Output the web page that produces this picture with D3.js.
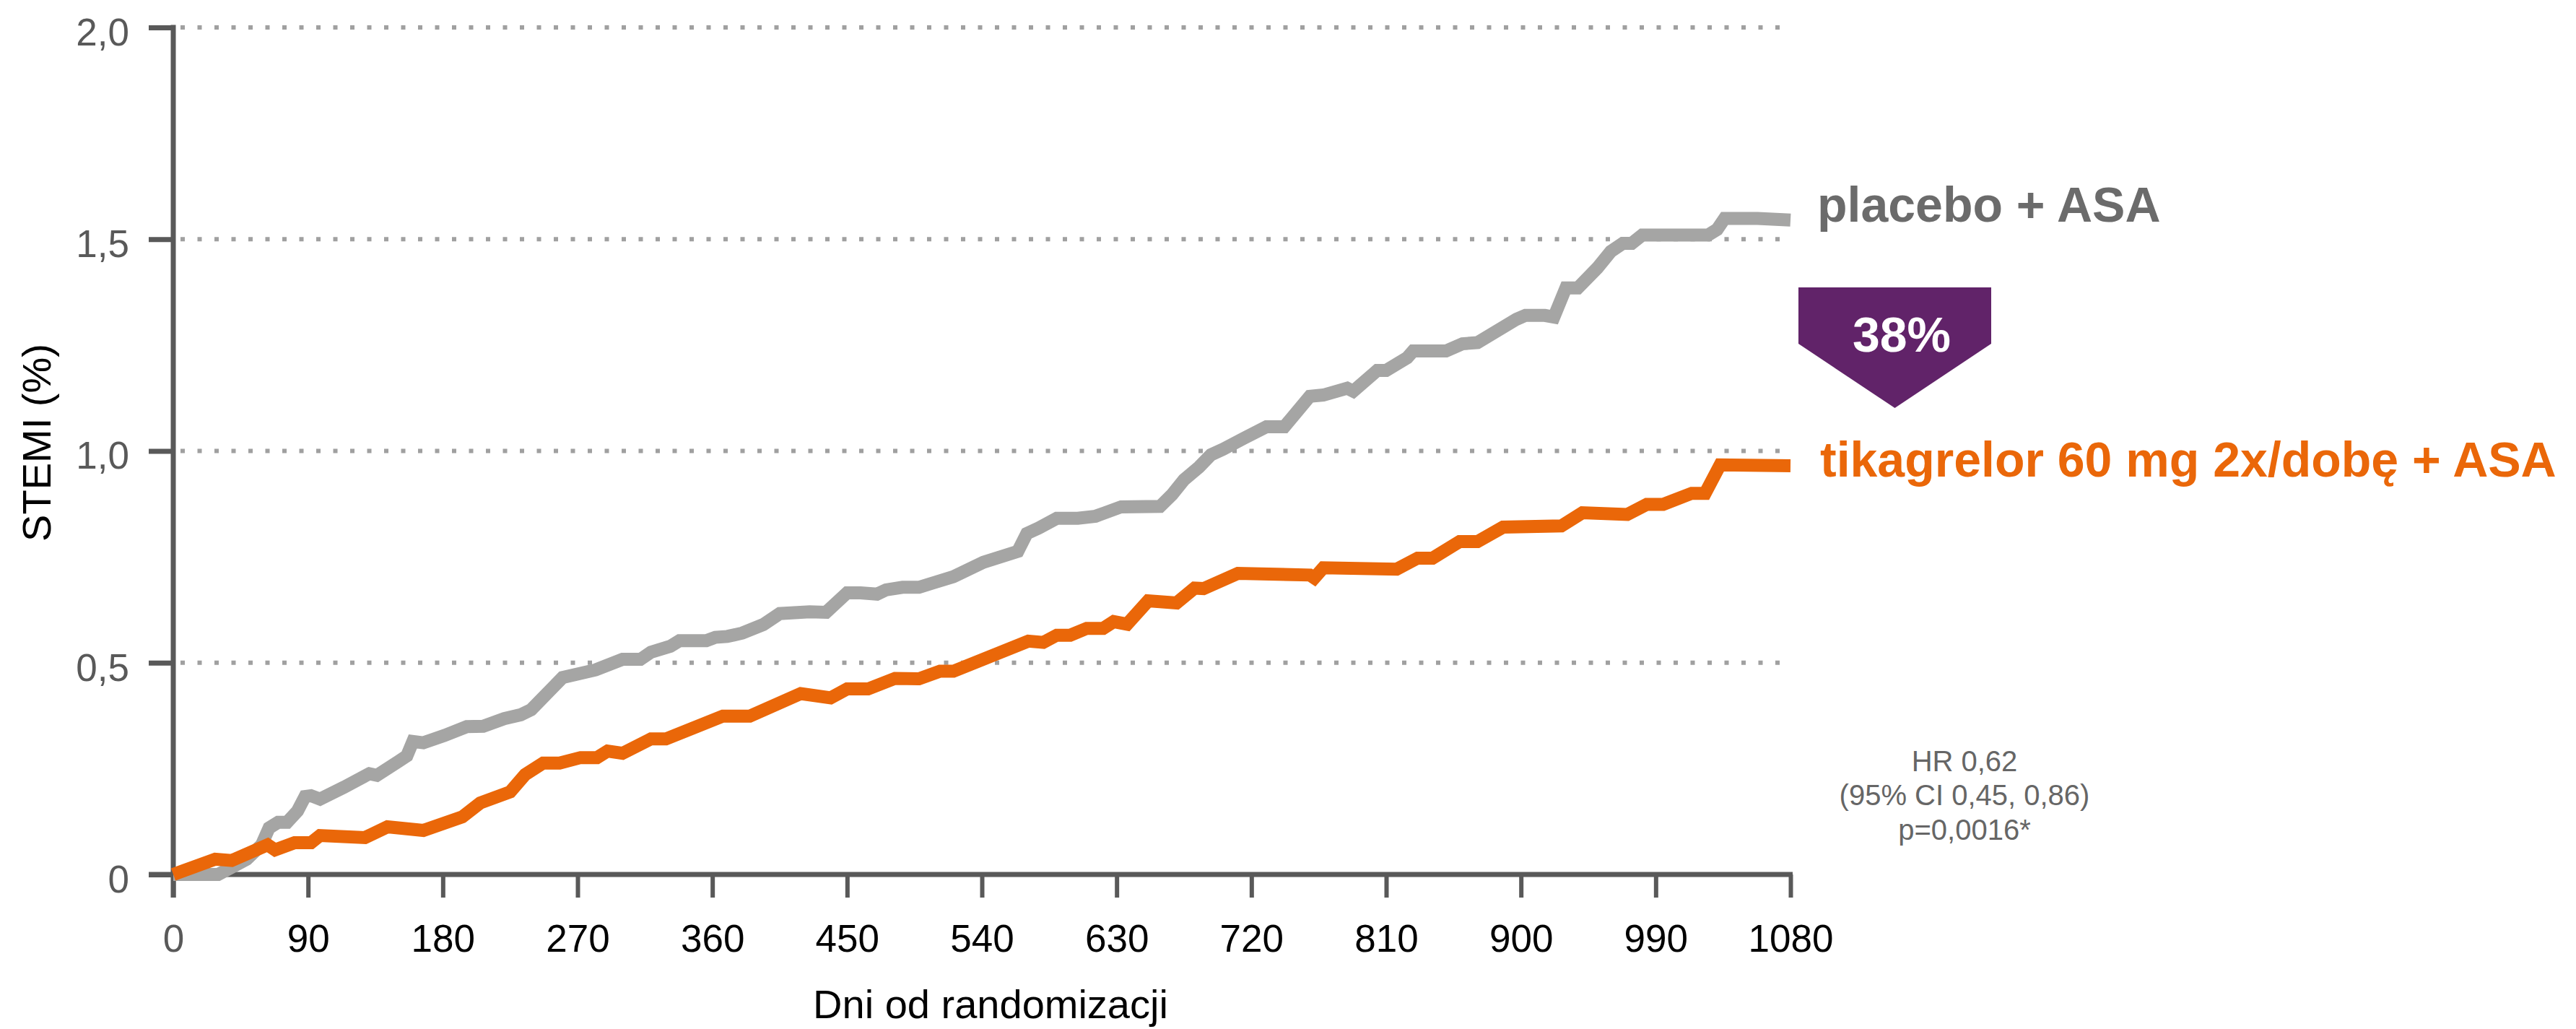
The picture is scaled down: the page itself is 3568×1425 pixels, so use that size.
<!DOCTYPE html>
<html>
<head>
<meta charset="utf-8">
<script src="https://cdn.jsdelivr.net/npm/d3@7"></script>
<style>
  html, body { margin: 0; padding: 0; background: #ffffff; }
  svg { display: block; }
</style>
</head>
<body>
<div id="chart"></div>
<script>
// ---------- DATA ----------
const xTicks = [0, 90, 180, 270, 360, 450, 540, 630, 720, 810, 900, 990, 1080];
const xTickLabels = ["0", "90", "180", "270", "360", "450", "540", "630", "720", "810", "900", "990", "1080"];
const yTicks = [0, 0.5, 1.0, 1.5, 2.0];
const yTickLabels = ["0", "0,5", "1,0", "1,5", "2,0"];
const gridValues = [0.5, 1.0, 1.5, 2.0];

const placeboDays = [0, 30, 49, 59, 64, 70, 76, 83, 88, 92, 98, 114, 131, 136, 150, 156, 160, 167, 181, 196,
  207, 221, 232, 239, 260, 282, 300, 312, 319, 332, 338, 356, 362, 370, 380, 394, 405, 425, 436, 450,
  459, 470, 476, 487, 498, 507, 521, 541, 564, 570, 578, 590, 604, 616, 633, 659, 667, 675, 685, 693,
  701, 715, 730, 742, 759, 768, 784, 788, 804, 810, 824, 828, 850, 861, 871, 897, 903, 916, 922, 930,
  938, 951, 960, 968, 974, 981, 1025, 1031, 1036, 1058, 1080];
const placeboValues = [0, 0, 0.036, 0.07, 0.11, 0.123, 0.123, 0.15, 0.184, 0.186, 0.178, 0.206, 0.238, 0.234, 0.266, 0.28, 0.314, 0.311, 0.328, 0.349,
  0.35, 0.368, 0.377, 0.389, 0.465, 0.483, 0.508, 0.508, 0.525, 0.539, 0.552, 0.552, 0.56, 0.562, 0.57, 0.59, 0.616, 0.62, 0.619, 0.665,
  0.665, 0.662, 0.672, 0.678, 0.678, 0.688, 0.703, 0.737, 0.763, 0.805, 0.818, 0.841, 0.841, 0.846, 0.868, 0.869, 0.897, 0.932, 0.962, 0.991,
  1.004, 1.03, 1.057, 1.057, 1.129, 1.132, 1.148, 1.141, 1.19, 1.19, 1.22, 1.236, 1.236, 1.253, 1.256, 1.311, 1.32, 1.32, 1.316, 1.385,
  1.385, 1.432, 1.471, 1.49, 1.49, 1.51, 1.51, 1.523, 1.549, 1.549, 1.545];

const ticaDays = [0, 28, 39, 63, 68, 81, 92, 98, 128, 143, 167, 193, 205, 225, 235, 247, 258, 272, 283, 290,
  300, 319, 329, 367, 385, 419, 439, 450, 464, 482, 498, 512, 521, 571, 581, 590, 599, 610, 621, 628,
  637, 651, 670, 682, 688, 711, 759, 762, 768, 817, 831, 841, 859, 871, 888, 927, 941, 971, 984, 995,
  1014, 1023, 1033, 1080];
const ticaValues = [0, 0.036, 0.033, 0.07, 0.058, 0.075, 0.075, 0.092, 0.087, 0.1125, 0.104, 0.136, 0.169, 0.195, 0.236, 0.263, 0.263, 0.276, 0.276, 0.2915,
  0.286, 0.32, 0.32, 0.374, 0.374, 0.427, 0.417, 0.438, 0.438, 0.463, 0.462, 0.48, 0.48, 0.551, 0.548, 0.565, 0.565, 0.581, 0.581, 0.597,
  0.591, 0.646, 0.641, 0.676, 0.675, 0.711, 0.707, 0.70, 0.724, 0.721, 0.747, 0.747, 0.786, 0.786, 0.82, 0.823, 0.854, 0.85, 0.874, 0.874,
  0.9, 0.9, 0.967, 0.965];

const seriesNames = ["placebo + ASA", "tikagrelor 60 mg 2x/dobę + ASA"];
const badgeText = "38%";
const statLines = ["HR 0,62", "(95% CI 0,45, 0,86)", "p=0,0016*"];
const yTitle = "STEMI (%)";
const xTitle = "Dni od randomizacji";

// ---------- LAYOUT ----------
const W = 3568, H = 1425;
const FONT = "'Liberation Sans', Arial, Helvetica, sans-serif";
const AXIS = "#595959";
const GREY = "#A5A5A4";
const ORANGE = "#EA6709";
const PURPLE = "#612369";

const svg = d3.select("#chart").append("svg")
  .attr("width", W).attr("height", H)
  .style("font-family", FONT);

const x = d3.scaleLinear().domain([0, 1080]).range([240, 2480]);
const y = d3.scaleLinear().domain([0, 2]).range([1211, 38]);

// gridlines
svg.append("g").selectAll("line").data(gridValues).join("line")
  .attr("x1", x(0) + 10).attr("x2", x(1080) - 2)
  .attr("y1", d => y(d)).attr("y2", d => y(d))
  .attr("stroke", "#A0A0A0").attr("stroke-width", 6)
  .attr("stroke-dasharray", "6,17.5");

// Y axis
const yAxis = d3.axisLeft(y).tickValues(yTicks)
  .tickFormat((d, i) => yTickLabels[i]).tickSize(34).tickPadding(27);
const gy = svg.append("g").attr("transform", `translate(${x(0)},0)`).call(yAxis);
gy.select(".domain").remove();
gy.selectAll(".tick line").attr("stroke", AXIS).attr("stroke-width", 7);
gy.selectAll(".tick text").attr("fill", AXIS).attr("font-size", 53)
  .attr("font-family", FONT).attr("dy", "0.46em");

// X axis
const xAxis = d3.axisBottom(x).tickValues(xTicks)
  .tickFormat((d, i) => xTickLabels[i]).tickSize(32);
const gx = svg.append("g").attr("transform", `translate(0,${y(0)})`).call(xAxis);
gx.select(".domain").remove();
gx.selectAll(".tick line").attr("stroke", AXIS).attr("stroke-width", 6);
gx.selectAll(".tick text").attr("fill", (d, i) => i === 0 ? AXIS : "#000000")
  .attr("font-size", 53).attr("font-family", FONT).attr("y", 107).attr("dy", 0);

// axis lines
svg.append("line")
  .attr("x1", x(0)).attr("x2", x(0))
  .attr("y1", y(2) - 3.5).attr("y2", y(0) + 32)
  .attr("stroke", AXIS).attr("stroke-width", 7);
svg.append("line")
  .attr("x1", x(0) - 34).attr("x2", x(1080) + 3)
  .attr("y1", y(0)).attr("y2", y(0))
  .attr("stroke", AXIS).attr("stroke-width", 7);

// series lines
const line = d3.line().x(d => x(d[0])).y(d => y(d[1]));
const placebo = placeboDays.map((d, i) => [d, placeboValues[i]]);
const tica = ticaDays.map((d, i) => [d, ticaValues[i]]);

svg.append("path").datum(placebo).attr("d", line)
  .attr("fill", "none").attr("stroke", GREY).attr("stroke-width", 18);
svg.append("path").datum(tica).attr("d", line)
  .attr("fill", "none").attr("stroke", ORANGE).attr("stroke-width", 18);

// series labels
svg.append("text").attr("x", 2517).attr("y", 307)
  .attr("font-size", 68).attr("font-weight", "bold").attr("fill", "#6B6B6B")
  .text(seriesNames[0]);
svg.append("text").attr("x", 2521).attr("y", 660)
  .attr("font-size", 68).attr("font-weight", "bold").attr("fill", ORANGE)
  .text(seriesNames[1]);

// badge
const bx0 = 2491, bx1 = 2758, by0 = 398, by1 = 476, tipY = 565;
svg.append("path")
  .attr("d", `M${bx0},${by0}H${bx1}V${by1}L${(bx0 + bx1) / 2},${tipY}L${bx0},${by1}Z`)
  .attr("fill", PURPLE);
svg.append("text").attr("x", 2634).attr("y", 487)
  .attr("text-anchor", "middle").attr("font-size", 68).attr("font-weight", "bold")
  .attr("fill", "#ffffff").text(badgeText);

// stats
const statY = [1068, 1115, 1163];
svg.append("g").selectAll("text").data(statLines).join("text")
  .attr("x", 2721).attr("y", (d, i) => statY[i])
  .attr("text-anchor", "middle").attr("font-size", 40).attr("fill", "#666666")
  .text(d => d);

// axis titles
svg.append("text")
  .attr("transform", "translate(70,613) rotate(-90)")
  .attr("text-anchor", "middle").attr("font-size", 56).attr("fill", "#000")
  .text(yTitle);
svg.append("text").attr("x", 1372).attr("y", 1410)
  .attr("text-anchor", "middle").attr("font-size", 56).attr("fill", "#000")
  .text(xTitle);
</script>
</body>
</html>
